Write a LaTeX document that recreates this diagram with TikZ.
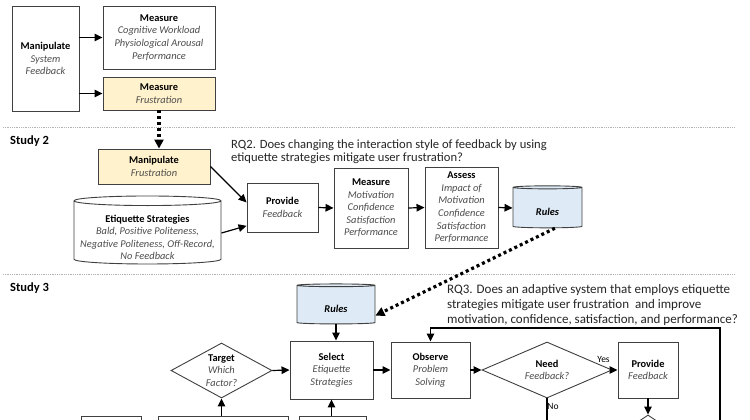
\documentclass[tikz,border=0pt]{standalone}
\usepackage{fontspec}
\setmainfont{Carlito}
\usetikzlibrary{arrows.meta,shapes.geometric}
\definecolor{frustfill}{HTML}{FFF2CC}
\definecolor{rulefill}{HTML}{DEEBF7}
\newcommand{\detail}[1]{{\color{black!70}\itshape #1}}
\tikzset{
  box/.style={draw=black!75, line width=0.9pt, align=center, inner sep=1pt,
              font=\fontsize{10.4}{12.6}\selectfont},
  dia/.style={box, diamond, inner sep=-2pt},
  cyl/.style={box, cylinder, shape border rotate=90, inner ysep=0pt},
  arr/.style={line width=1.2pt, -{Triangle[length=8pt,width=7.5pt]}},
  dotarr/.style={line width=3.2pt, dash pattern=on 3pt off 3pt,
                 -{Triangle[length=9pt,width=9pt]}},
  sep/.style={gray!60, line width=0.8pt, densely dotted},
  rq/.style={align=left, inner sep=0pt, anchor=north west, text=black!85},
  study/.style={inner sep=0pt, anchor=west, font=\fontsize{12.5}{14}\selectfont\bfseries},
  tag/.style={inner sep=0pt, font=\fontsize{9.5}{11}\selectfont}
}
\begin{document}
\begin{tikzpicture}[x=10pt,y=10pt]
      \useasboundingbox (0,0) rectangle (75,-42);
      \fill[white] (0,0) rectangle (75,-42);
      \clip (0,0) rectangle (75,-42);
      %%%%%%%%%%%%%%%%%%%%%%%%%%%%%%%%%%%%%%%%%%%%%%%
      \node[box, minimum width=67pt, minimum height=105pt] at (4.55,-5.85) (manS)
            {\textbf{Manipulate}\\\detail{System}\\\detail{Feedback}};
      \node[box, minimum width=112pt, minimum height=63pt] at (15.9,-3.75) (meaW)
            {\textbf{Measure}\\\detail{Cognitive Workload}\\\detail{Physiological Arousal}\\\detail{Performance}};
      \node[box, fill=frustfill, minimum width=112pt, minimum height=33pt] at (15.9,-9.35) (meaF)
            {\textbf{Measure}\\\detail{Frustration}};
      \draw[arr] (manS.east |- meaW) -- (meaW.west);
      \draw[arr] (manS.east |- meaF) -- (meaF.west);
      %%%%%%%%%%%%%%%%%%%%%%%%%%%%%%%%%%%%%%%%%%%%%%%
      \draw[sep] (0.3,-12.7) -- (73.5,-12.7);
      \node[study] at (1,-14.1) (st2) {Study 2};
      \node[rq, font=\fontsize{12.6}{13.6}\selectfont] at (23.1,-13.92) (rq2)
            {RQ2. Does changing the interaction style of feedback by using\\etiquette strategies mitigate user frustration?};
      %%%%%%%%%%%%%%%%%%%%%%%%%%%%%%%%%%%%%%%%%%%%%%%
      \node[box, fill=frustfill, minimum width=112pt, minimum height=35pt] at (15.4,-16.65) (manF)
            {\textbf{Manipulate}\\\detail{Frustration}};
      \node[cyl, aspect=0.07, minimum width=147pt, minimum height=68pt] at (14.75,-23.3) (etiq)
            {\rule{0pt}{16pt}\textbf{Etiquette Strategies}\\\detail{Bald, Positive Politeness,}\\\detail{Negative Politeness, Off-Record,}\\\detail{No Feedback}};
      \node[box, minimum width=71pt, minimum height=49pt] at (28.25,-20.75) (provA)
            {\textbf{Provide}\\\detail{Feedback}};
      \node[box, minimum width=74pt, minimum height=80pt] at (37.1,-20.8) (meaM)
            {\textbf{Measure}\\\detail{Motivation}\\\detail{Confidence}\\\detail{Satisfaction}\\\detail{Performance}};
      \node[box, minimum width=73pt, minimum height=81pt] at (46.15,-20.75) (assA)
            {\textbf{Assess}\\\detail{Impact of}\\\detail{Motivation}\\\detail{Confidence}\\\detail{Satisfaction}\\\detail{Performance}};
      \node[cyl, fill=rulefill, aspect=0.12, minimum width=69pt, minimum height=42pt] at (54.75,-20.8) (rulA)
            {\rule{0pt}{15pt}\textbf{\textit{Rules}}};
      \draw[dotarr] (meaF.south) -- (meaF.south |- manF.north);
      \draw[arr] (manF.east) -- (provA.172);
      \draw[arr] (etiq.east) -- (provA.207);
      \draw[arr] (provA.east) -- (meaM.west);
      \draw[arr] (meaM.east) -- (assA.west);
      \draw[arr] (assA.east) -- (rulA.west);
      %%%%%%%%%%%%%%%%%%%%%%%%%%%%%%%%%%%%%%%%%%%%%%%
      \draw[sep] (0.3,-27.4) -- (73.5,-27.4);
      \node[study] at (1,-28.8) (st3) {Study 3};
      \node[rq, font=\fontsize{13}{15}\selectfont] at (44.7,-28.44) (rq3)
            {RQ3. Does an adaptive system that employs etiquette\\strategies mitigate user frustration\ \ and improve\\motivation, confidence, satisfaction, and performance?};
      %%%%%%%%%%%%%%%%%%%%%%%%%%%%%%%%%%%%%%%%%%%%%%%
      \node[cyl, fill=rulefill, aspect=0.11, minimum width=78pt, minimum height=40pt] at (33.6,-30.5) (rulB)
            {\rule{0pt}{15pt}\textbf{\textit{Rules}}};
      \node[dia, aspect=1.84, minimum width=101pt, minimum height=55pt] at (22.15,-37.05) (tgt)
            {\textbf{Target}\\\detail{Which}\\\detail{Factor?}};
      \node[box, minimum width=83pt, minimum height=58pt] at (33.15,-37) (sel)
            {\textbf{Select}\\\detail{Etiquette}\\\detail{Strategies}};
      \node[box, minimum width=79pt, minimum height=56pt] at (43.05,-37) (obs)
            {\textbf{Observe}\\\detail{Problem}\\\detail{Solving}};
      \node[dia, aspect=2.3, minimum width=130pt, minimum height=56pt] at (54.7,-37) (need)
            {\textbf{Need}\\\detail{Feedback?}};
      \node[box, minimum width=60pt, minimum height=56pt] at (64.8,-37) (provB)
            {\textbf{Provide}\\\detail{Feedback}};
      \node[tag] at (60.35,-35.95) (yes) {Yes};
      \node[tag] at (55.3,-40.6) (no) {No};
      \node[box, minimum width=60pt, minimum height=40pt] at (11.1,-43.6) (low1) {};
      \node[box, minimum width=130pt, minimum height=40pt] at (22.3,-43.6) (low2) {};
      \node[box, minimum width=67pt, minimum height=40pt] at (33.25,-43.6) (low3) {};
      \node[dia, aspect=1.5, minimum width=60pt, minimum height=40pt] at (64.8,-43.5) (dmd) {};
      \coordinate (needB) at (54.7,-43);
      \coordinate (loopR) at (72,-43);
      \coordinate (loopT) at (72,-32.8);
      \draw[dotarr] (rulA.290) -- (rulB.-15);
      \draw[arr] (rulB.south) -- (rulB.south |- sel.north);
      \draw[arr] (tgt.east) -- (sel.west);
      \draw[arr] (sel.east) -- (obs.west);
      \draw[arr] (obs.east) -- (need.west);
      \draw[arr] (need.east) -- (provB.west);
      \draw[line width=1.2pt] (need.south) -- (needB);
      \draw[arr] (provB.south) -- (dmd.north);
      \draw[arr] (loopR) |- (obs.north |- loopT) -- (obs.north);
      \draw[arr] (tgt.south |- low2.north) -- (tgt.south);
      \draw[arr] (sel.south |- low3.north) -- (sel.south);
      %%%%%%%%%%%%%%%%%%%%%%%%%%%%%%%%%%%%%%%%%%%%%%%
\end{tikzpicture}
\end{document}
